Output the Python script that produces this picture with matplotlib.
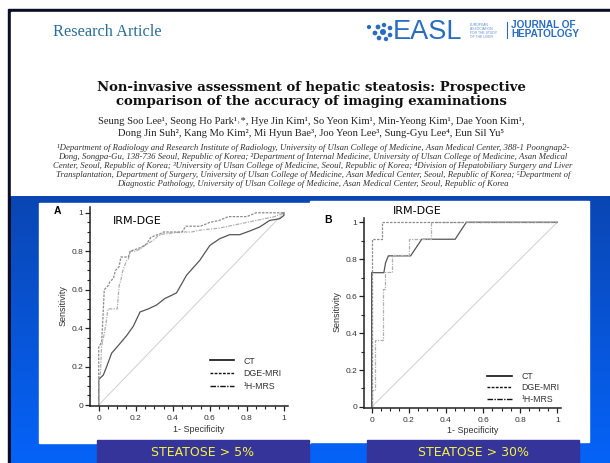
import numpy as np
import matplotlib.pyplot as plt
from matplotlib.patches import Rectangle, Circle
from matplotlib.lines import Line2D
from matplotlib.colors import LinearSegmentedColormap

# ROC curves (1-specificity, sensitivity)
# panel A : steatosis > 5%
a_ct_x = [0, 0, 0.025, 0.043, 0.07, 0.106, 0.15, 0.187, 0.223, 0.268, 0.312, 0.357, 0.42,
          0.474, 0.546, 0.6, 0.653, 0.707, 0.761, 0.815, 0.869, 0.923, 0.977, 1.0, 1.0]
a_ct_y = [0, 0.133, 0.156, 0.2, 0.27, 0.31, 0.36, 0.41, 0.484, 0.5, 0.52, 0.554, 0.583,
          0.675, 0.753, 0.83, 0.865, 0.886, 0.886, 0.905, 0.926, 0.96, 0.969, 0.986, 1.0]
a_dge_x = [0, 0, 0.016, 0.02, 0.03, 0.05, 0.06, 0.08, 0.09, 0.11, 0.12, 0.16, 0.17, 0.2,
           0.23, 0.26, 0.28, 0.3, 0.33, 0.35, 0.45, 0.47, 0.55, 0.6, 0.65, 0.7, 0.8, 0.85, 1.0]
a_dge_y = [0, 0.3, 0.33, 0.4, 0.6, 0.62, 0.64, 0.66, 0.7, 0.72, 0.77, 0.77, 0.8, 0.81,
           0.82, 0.84, 0.87, 0.88, 0.89, 0.9, 0.9, 0.93, 0.93, 0.95, 0.96, 0.98, 0.98, 1.0, 1.0]
a_mrs_x = [0, 0, 0.01, 0.015, 0.02, 0.03, 0.04, 0.05, 0.1, 0.11, 0.12, 0.13, 0.15, 0.16,
           0.17, 0.2, 0.22, 0.25, 0.3, 0.32, 0.35, 0.45, 0.5, 0.55, 0.65, 0.75, 0.85, 0.95, 1.0]
a_mrs_y = [0, 0.13, 0.17, 0.3, 0.33, 0.37, 0.43, 0.5, 0.5, 0.62, 0.65, 0.7, 0.75, 0.76,
           0.8, 0.8, 0.81, 0.83, 0.86, 0.88, 0.89, 0.9, 0.9, 0.91, 0.92, 0.94, 0.96, 0.98, 1.0]

# panel B : steatosis > 30%
b_ct_x = [0, 0, 0.066, 0.075, 0.09, 0.21, 0.27, 0.45, 0.51, 1.0]
b_ct_y = [0, 0.727, 0.727, 0.78, 0.818, 0.818, 0.908, 0.908, 1.0, 1.0]
b_dge_x = [0, 0, 0.057, 0.057, 1.0]
b_dge_y = [0, 0.91, 0.91, 1.0, 1.0]
b_mrs_x = [0, 0, 0.02, 0.02, 0.06, 0.06, 0.07, 0.07, 0.11, 0.11, 0.2, 0.2, 0.32, 0.32, 1.0]
b_mrs_y = [0, 0.09, 0.09, 0.36, 0.36, 0.64, 0.64, 0.73, 0.73, 0.82, 0.82, 0.91, 0.91, 1.0, 1.0]

legend_labels = ["CT", "DGE-MRI", "\u00b9H-MRS"]
tick_vals = [0, 0.2, 0.4, 0.6, 0.8, 1]
tick_text = ["0", "0.2", "0.4", "0.6", "0.8", "1"]
panel_names = ["STEATOSE > 5%", "STEATOSE > 30%"]

title_lines = ["Non-invasive assessment of hepatic steatosis: Prospective",
               "comparison of the accuracy of imaging examinations"]
author_lines = ["Seung Soo Lee\u00b9, Seong Ho Park\u00b9\u02d2*, Hye Jin Kim\u00b9, So Yeon Kim\u00b9, "
                "Min-Yeong Kim\u00b9, Dae Yoon Kim\u00b9,",
                "Dong Jin Suh\u00b2, Kang Mo Kim\u00b2, Mi Hyun Bae\u00b3, Joo Yeon Lee\u00b3, "
                "Sung-Gyu Lee\u2074, Eun Sil Yu\u2075"]
affil_lines = ["\u00b9Department of Radiology and Research Institute of Radiology, University of Ulsan College of Medicine, Asan Medical Center, 388-1 Poongnap2-",
               "Dong, Songpa-Gu, 138-736 Seoul, Republic of Korea; \u00b2Department of Internal Medicine, University of Ulsan College of Medicine, Asan Medical",
               "Center, Seoul, Republic of Korea; \u00b3University of Ulsan College of Medicine, Seoul, Republic of Korea; \u2074Division of Hepatobiliary Surgery and Liver",
               "Transplantation, Department of Surgery, University of Ulsan College of Medicine, Asan Medical Center, Seoul, Republic of Korea; \u2075Department of",
               "Diagnostic Pathology, University of Ulsan College of Medicine, Asan Medical Center, Seoul, Republic of Korea"]

SANS = "Liberation Sans"
SERIF = "Liberation Serif"

fig = plt.figure(figsize=(6.1, 4.63), dpi=100)
fig.patch.set_facecolor("white")

# background in pixel coordinates
bg = fig.add_axes([0, 0, 1, 1])
bg.axis("off")
bg.add_patch(Rectangle((8, 9), 602, 454, color="#0a0d26", zorder=1))
bg.add_patch(Rectangle((11, 12), 599, 184, color="white", zorder=1))
blue = LinearSegmentedColormap.from_list("blue", ["#0a46b4", "#0563f8"])
bg.imshow(np.linspace(0, 1, 100).reshape(-1, 1), extent=(11, 610, 463, 196),
          cmap=blue, aspect="auto", zorder=2)
bg.add_patch(Rectangle((39, 203), 271, 240, color="white", zorder=3))
bg.add_patch(Rectangle((310, 201), 279, 241, color="white", zorder=3))
for x0, name in zip([97, 367], panel_names):
    bg.add_patch(Rectangle((x0, 440), 212, 23, color="#35349a", zorder=4))
    bg.text(x0 + 106, 452, name, color="#f6f23c", fontsize=9, ha="center", va="center",
            family="DejaVu Sans", zorder=5)
bg.set_xlim(0, 610)
bg.set_ylim(463, 0)

# header of the paper
bg.text(53, 32, "Research Article", color="#2c6e96", fontsize=11.8, family=SERIF,
        ha="left", va="center", zorder=5)
logo_dots = [(369, 27, 1.4), (378, 27, 1.7), (384, 25, 1.5), (390, 28, 1.6),
             (375, 33, 1.7), (383, 32, 2.3), (390, 35, 1.6), (379, 38, 1.6), (386, 39, 1.5)]
for cx, cy, r in logo_dots:
    bg.add_patch(Circle((cx, cy), r, color="#2a6cc0", zorder=5))
bg.text(393, 32, "EASL", color="#2a6cc0", fontsize=19.5, family=SANS, ha="left", va="center",
        zorder=5)
for i, s in enumerate(["EUROPEAN", "ASSOCIATION", "FOR THE STUDY", "OF THE LIVER"]):
    bg.text(470, 25 + i * 4, s, color="#5a8ccc", fontsize=2.4, family=SANS, ha="left",
            va="center", zorder=5)
bg.plot([507, 507], [22, 38], color="#2a6cc0", lw=0.8, zorder=5)
bg.text(511, 25, "JOURNAL OF", color="#2a6cc0", fontsize=7.2, family=SANS, weight="bold",
        ha="left", va="center", zorder=5)
bg.text(511, 34, "HEPATOLOGY", color="#2a6cc0", fontsize=7.2, family=SANS, weight="bold",
        ha="left", va="center", zorder=5)

for i, s in enumerate(title_lines):
    bg.text(311, 87 + i * 14.5, s, fontsize=9.5, family="DejaVu Serif", weight="bold",
            color="#111111", ha="center", va="center", zorder=5)
for i, s in enumerate(author_lines):
    bg.text(311, 122 + i * 12, s, fontsize=7.6, family=SERIF, color="#222222",
            ha="center", va="center", zorder=5)
for i, s in enumerate(affil_lines):
    bg.text(313, 148 + i * 9, s, fontsize=6.3, family=SERIF, style="italic", color="#333333",
            ha="center", va="center", zorder=5)


def px_axes(left, right, top, bottom):
    return fig.add_axes([left / 610, 1 - bottom / 463, (right - left) / 610, (bottom - top) / 463])


def roc(ax, curves, xlim, ylim, yminor, leg_anchor, leg_space):
    ax.set_facecolor("none")
    ax.plot([0, 1], [0, 1], color="#cfcfcf", lw=0.7)
    (cx, cy), (dx, dy), (mx, my) = curves
    ax.plot(cx, cy, color="#555555", lw=0.9)
    ax.plot(mx, my, color="#b0b0b0", lw=0.9, dashes=(3, 1, 1, 1))
    ax.plot(dx, dy, color="#8c8c8c", lw=0.9, dashes=(2, 1))
    ax.set_xlim(*xlim)
    ax.set_ylim(*ylim)
    for side in ["top", "right"]:
        ax.spines[side].set_visible(False)
    for side in ["left", "bottom"]:
        ax.spines[side].set_linewidth(1.1)
        ax.spines[side].set_color("#222222")
    ax.set_xticks(tick_vals)
    ax.set_xticklabels(tick_text)
    ax.set_yticks(tick_vals)
    ax.set_yticklabels(tick_text)
    ax.set_xticks(np.arange(0, 1.001, 0.05), minor=True)
    ax.set_yticks(np.arange(0, 1.001, yminor), minor=True)
    ax.tick_params(which="major", length=3.5, width=0.9, color="#222222", labelsize=6,
                   labelcolor="#333333")
    ax.tick_params(which="minor", length=2.5, width=0.8, color="#222222")
    ax.tick_params(axis="y", pad=1.5)
    ax.tick_params(axis="x", pad=3)
    for lab in ax.get_xticklabels() + ax.get_yticklabels():
        lab.set_family(SANS)
    ax.set_xlabel("1- Specificity", fontsize=6.5, family=SANS, color="#333333")
    ax.set_ylabel("Sensitivity", fontsize=6.5, family=SANS, color="#333333")
    ax.xaxis.set_label_coords(0.55, -0.095)
    ax.yaxis.set_label_coords(-0.115, 0.505)
    handles = [Line2D([], [], color="#111111", lw=1.2),
               Line2D([], [], color="#111111", lw=1.0, dashes=(2, 1)),
               Line2D([], [], color="#111111", lw=1.0, dashes=(4, 1, 1, 1))]
    leg = ax.legend(handles, legend_labels, loc="upper left", bbox_to_anchor=leg_anchor,
                    bbox_transform=ax.transData, frameon=False, borderpad=0,
                    handlelength=2.8, handletextpad=1.1, labelspacing=leg_space,
                    prop={"family": SANS, "size": 6.3})
    for t in leg.get_texts():
        t.set_color("#333333")


# panel A
axA = px_axes(90, 288, 207, 406)
roc(axA, [(a_ct_x, a_ct_y), (a_dge_x, a_dge_y), (a_mrs_x, a_mrs_y)],
    (-0.047, 1.022), (-0.005, 1.03), 0.05, (0.575, 0.275), 0.42)
bg.text(57, 211, "A", fontsize=7.5, weight="bold", family=SANS, ha="center", va="center",
        zorder=5)
bg.text(137, 221, "IRM-DGE", fontsize=8, family="DejaVu Sans", ha="center", va="center",
        zorder=5)

# panel B
axB = px_axes(364, 561, 218, 407.5)
roc(axB, [(b_ct_x, b_ct_y), (b_dge_x, b_dge_y), (b_mrs_x, b_mrs_y)],
    (-0.041, 1.02), (-0.003, 1.023), 0.1, (0.6, 0.215), 0.3)
bg.text(328, 220, "B", fontsize=7.5, weight="bold", family=SANS, ha="center", va="center",
        zorder=5)
bg.text(417, 211, "IRM-DGE", fontsize=8, family="DejaVu Sans", ha="center", va="center",
        zorder=5)

fig.savefig("out.png", dpi=100)
